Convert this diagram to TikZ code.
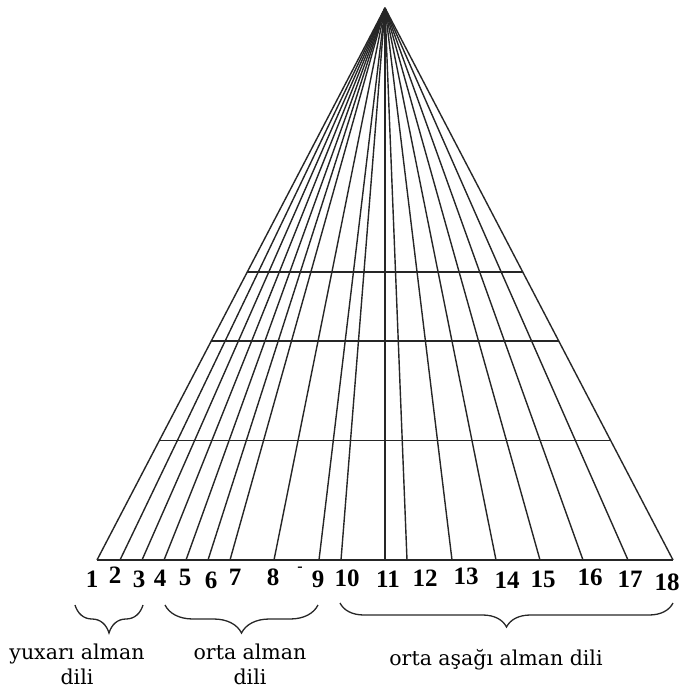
\documentclass[tikz,border=0pt]{standalone}
\usepackage{fontspec}
\setmainfont{Liberation Serif}
\newfontfamily\lblfont{DejaVu Serif}
\usetikzlibrary{decorations.pathreplacing,calc}
\begin{document}
\begin{tikzpicture}[x=1pt,y=-1pt,
  ray/.style={line width=1.4pt, black!85},
  rung/.style={line width=1.4pt, black!85},
  num/.style={font=\fontsize{25}{25}\selectfont\bfseries, inner sep=0pt, anchor=center},
  lbl/.style={font=\lblfont\fontsize{20.5}{25}\selectfont, inner sep=0pt, align=center},
  brc/.style={decorate, decoration={brace, mirror, amplitude=#1}, line width=1.3pt, black!85}]
\useasboundingbox (0,0) rectangle (686,691);
\coordinate (A) at (385,8);
\foreach \i/\x in {1/97,2/120,3/142,4/164,5/186,6/208,7/230,8/274,9/319,10/341,11/385,12/407,13/452,14/496,15/540,16/583,17/628,18/673}
  \coordinate (b\i) at (\x,560);
\draw[ray] (b1) -- (b18);
\foreach \i in {1,...,18} \draw[ray] (A) -- (b\i);
% horizontal rungs
\coordinate (L1) at ($(A)!0.478!(b1)$);
\coordinate (R1) at ($(A)!0.478!(b18)$);
\coordinate (L2) at ($(A)!0.603!(b1)$);
\coordinate (R2) at ($(A)!0.603!(b18)$);
\coordinate (L3) at ($(A)!0.784!(b1)$);
\coordinate (R3) at ($(A)!0.784!(b18)$);
\draw[rung] (L1) -- (R1);
\draw[rung] (L2) -- (R2);
\draw[rung] (L3) -- (R3);
% numbers
\foreach \i/\x/\y in {1/92/579,2/115/575,3/139/579,4/160/578,5/185/577,6/211/580,7/235/577,8/273/577,9/318/579,10/347/578,11/388/579,12/425/578,13/466/576,14/507/580,15/543/579,16/590/577,17/630/579,18/667/582}
  \node[num] (n\i) at (\x,\y) {\i};
\node[font=\fontsize{16}{16}\selectfont\bfseries, inner sep=0pt] (dash) at (300,569) {-};
% braces
\coordinate (ba1) at (75,605);
\coordinate (bb1) at (143,605);
\coordinate (ba2) at (165,605);
\coordinate (bb2) at (318,605);
\coordinate (ba3) at (340,603);
\coordinate (bb3) at (673,603);
\draw[brc=28pt] (ba1) -- (bb1);
\draw[brc=28pt] (ba2) -- (bb2);
\draw[brc=24pt] (ba3) -- (bb3);
% labels
\node[lbl] (l1) at (77,664) {yuxarı alman\\dili};
\node[lbl] (l2) at (250,664) {orta alman\\dili};
\node[lbl] (l3) at (496,660) {orta aşağı alman dili};
\end{tikzpicture}
\end{document}
